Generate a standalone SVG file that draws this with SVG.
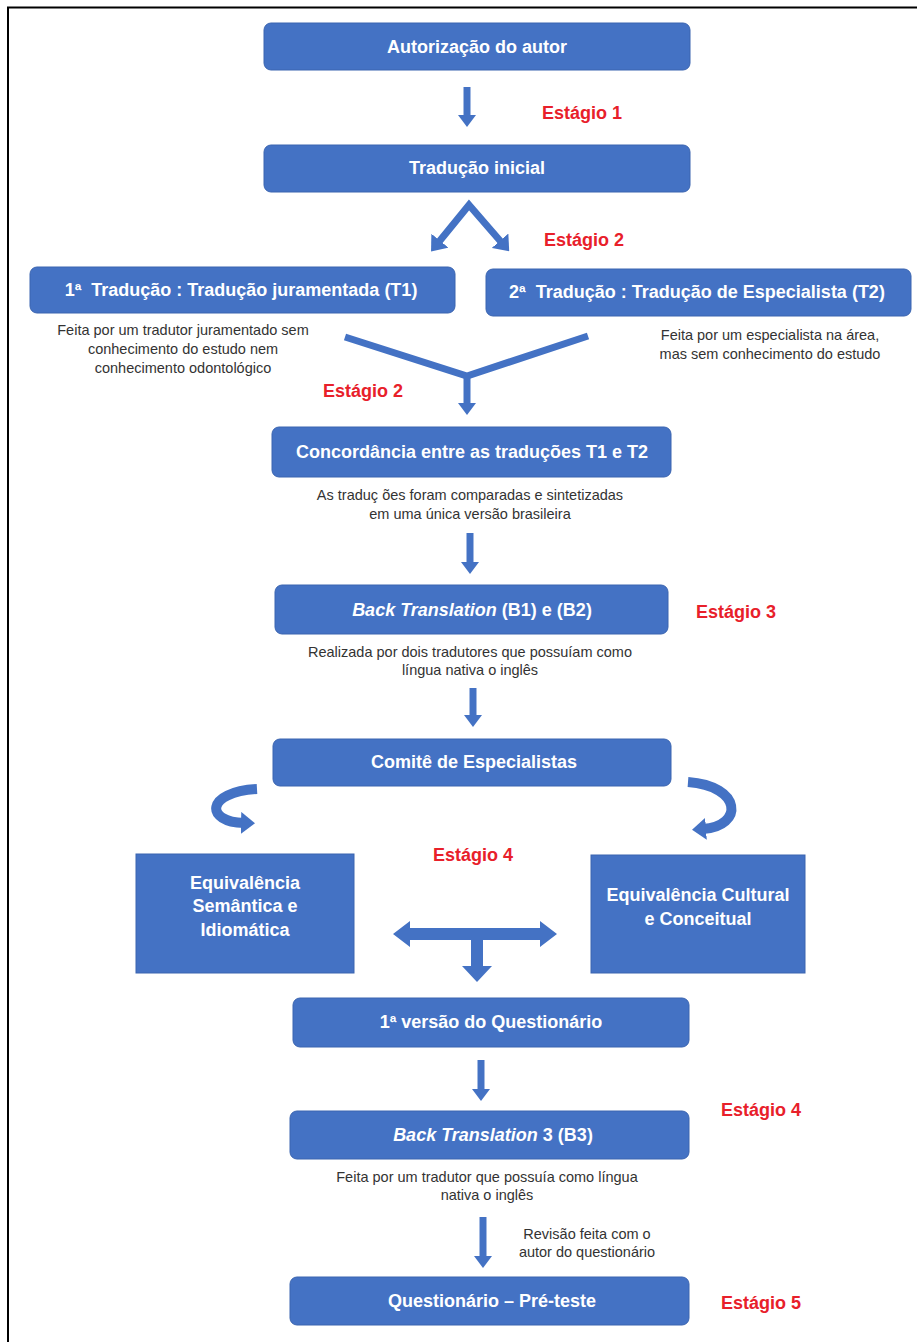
<svg xmlns="http://www.w3.org/2000/svg" width="917" height="1342" viewBox="0 0 917 1342">
<style>
.box{fill:#4472C4;stroke:#3A64B0;stroke-width:1}
.bt{font-family:"Liberation Sans",Arial,sans-serif;font-weight:bold;font-size:18px;fill:#ffffff;text-anchor:middle}
.st{font-family:"Liberation Sans",Arial,sans-serif;font-weight:bold;font-size:18px;fill:#E8202A;text-anchor:middle}
.nt{font-family:"Liberation Sans",Arial,sans-serif;font-size:14.5px;fill:#333333;text-anchor:middle}
.ln{fill:none;stroke:#4472C4;stroke-width:7}
.cv{fill:none;stroke:#4472C4;stroke-width:10}
.sh{fill:#4472C4}
</style>
<defs>
<marker id="ah" viewBox="0 0 12 18" refX="3" refY="9" markerWidth="12" markerHeight="18" markerUnits="userSpaceOnUse" orient="auto-start-reverse">
<path d="M0,0 L12,9 L0,18 z" fill="#4472C4"/>
</marker>
<marker id="ahb" viewBox="0 0 14 22" refX="3" refY="11" markerWidth="14" markerHeight="22" markerUnits="userSpaceOnUse" orient="auto-start-reverse">
<path d="M0,0 L14,11 L0,22 z" fill="#4472C4"/>
</marker>
<marker id="ahc" viewBox="0 0 14 22" refX="3" refY="11" markerWidth="14" markerHeight="22" markerUnits="userSpaceOnUse" orient="auto">
<path d="M0,0 L14,11 L0,22 z" fill="#4472C4"/>
</marker>
</defs>
<rect width="917" height="1342" fill="#ffffff"/>
<g id="frame">
<line x1="7" y1="7.5" x2="917" y2="7.5" stroke="#000" stroke-width="2"/>
<line x1="8" y1="7" x2="8" y2="1342" stroke="#000" stroke-width="2"/>
</g>
<g id="connectors">
<line class="ln" x1="467" y1="87" x2="467" y2="118" marker-end="url(#ah)"/>
<path class="ln" d="M438,243 L469,205 L502,243" marker-start="url(#ahb)" marker-end="url(#ahb)"/>
<polyline class="ln" points="345,337 467,376 588,336"/>
<line class="ln" x1="467" y1="374" x2="467" y2="406" marker-end="url(#ah)"/>
<line class="ln" x1="470" y1="533" x2="470" y2="565" marker-end="url(#ah)"/>
<line class="ln" x1="473" y1="688" x2="473" y2="718" marker-end="url(#ah)"/>
<path class="cv" d="M257,789 C205,792 205,822 244,823" marker-end="url(#ahc)"/>
<path class="cv" d="M688,782 C742,786 744,826 703,829" marker-end="url(#ahc)"/>
<polygon class="sh" points="393,934 410,921 410,928 540,928 540,921 557,934 540,947 540,940 483,940 483,966 492,966 477,982 462,966 471,966 471,940 410,940 410,947"/>
<line class="ln" x1="481" y1="1060" x2="481" y2="1092" marker-end="url(#ah)"/>
<line class="ln" x1="483" y1="1217" x2="483" y2="1259" marker-end="url(#ah)"/>
</g>
<g id="n1"><rect class="box" x="264" y="23" width="426" height="47" rx="7"/><text class="bt" x="477" y="52.5">Autorização do autor</text></g>
<g id="n2"><rect class="box" x="264" y="145" width="426" height="47" rx="7"/><text class="bt" x="477" y="174">Tradução inicial</text></g>
<g id="n3"><rect class="box" x="30" y="267" width="425" height="46" rx="7"/><text class="bt" x="241" y="296">1ª&#160; Tradução : Tradução juramentada (T1)</text></g>
<g id="n4"><rect class="box" x="486" y="269" width="425" height="47" rx="7"/><text class="bt" x="697" y="298">2ª&#160; Tradução : Tradução de Especialista (T2)</text></g>
<g id="note-t1"><text class="nt" x="183" y="335">Feita por um tradutor juramentado sem</text><text class="nt" x="183" y="354">conhecimento do estudo nem</text><text class="nt" x="183" y="373">conhecimento odontológico</text></g>
<g id="note-t2"><text class="nt" x="770" y="340">Feita por um especialista na área,</text><text class="nt" x="770" y="359">mas sem conhecimento do estudo</text></g>
<g id="n5"><rect class="box" x="272" y="427" width="399" height="50" rx="7"/><text class="bt" x="472" y="458">Concordância entre as traduções T1 e T2</text></g>
<g id="note-c"><text class="nt" x="470" y="500">As traduç ões foram comparadas e sintetizadas</text><text class="nt" x="470" y="519">em uma única versão brasileira</text></g>
<g id="n6"><rect class="box" x="275" y="585" width="393" height="49" rx="7"/><text class="bt" x="472" y="615.5"><tspan font-style="italic">Back Translation</tspan> (B1) e (B2)</text></g>
<g id="note-b"><text class="nt" x="470" y="657">Realizada por dois tradutores que possuíam como</text><text class="nt" x="470" y="675">língua nativa o inglês</text></g>
<g id="n7"><rect class="box" x="273" y="739" width="398" height="47" rx="7"/><text class="bt" x="474" y="768">Comitê de Especialistas</text></g>
<g id="n8"><rect class="box" x="136" y="854" width="218" height="119"/><text class="bt" x="245" y="889">Equivalência</text><text class="bt" x="245" y="912">Semântica e</text><text class="bt" x="245" y="936">Idiomática</text></g>
<g id="n9"><rect class="box" x="591" y="855" width="214" height="118"/><text class="bt" x="698" y="901">Equivalência Cultural</text><text class="bt" x="698" y="925">e Conceitual</text></g>
<g id="n10"><rect class="box" x="293" y="998" width="396" height="49" rx="7"/><text class="bt" x="491" y="1028">1ª versão do Questionário</text></g>
<g id="n11"><rect class="box" x="290" y="1111" width="399" height="48" rx="7"/><text class="bt" x="493" y="1141"><tspan font-style="italic">Back Translation</tspan> 3 (B3)</text></g>
<g id="note-b3"><text class="nt" x="487" y="1182">Feita por um tradutor que possuía como língua</text><text class="nt" x="487" y="1200">nativa o inglês</text></g>
<g id="note-r"><text class="nt" x="587" y="1239">Revisão feita com o</text><text class="nt" x="587" y="1257">autor do questionário</text></g>
<g id="n12"><rect class="box" x="290" y="1277" width="399" height="48" rx="7"/><text class="bt" x="492" y="1307">Questionário – Pré-teste</text></g>
<g id="stages">
<text class="st" x="582" y="119">Estágio 1</text>
<text class="st" x="584" y="246">Estágio 2</text>
<text class="st" x="363" y="397">Estágio 2</text>
<text class="st" x="736" y="618">Estágio 3</text>
<text class="st" x="473" y="861">Estágio 4</text>
<text class="st" x="761" y="1116">Estágio 4</text>
<text class="st" x="761" y="1309">Estágio 5</text>
</g>
</svg>
